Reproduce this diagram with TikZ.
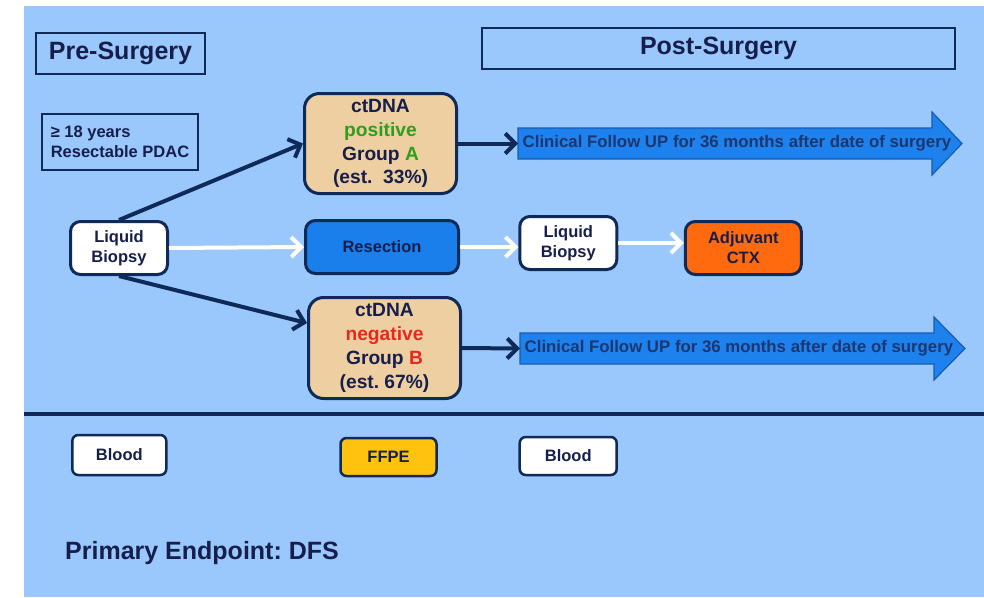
\documentclass[tikz,border=0pt]{standalone}
\usepackage{fontspec}
\setmainfont{Liberation Sans}
\usetikzlibrary{arrows.meta}
\definecolor{bgblue}{HTML}{9AC8FC}
\definecolor{navyline}{HTML}{0F2A58}
\definecolor{navytext}{HTML}{161E4C}
\definecolor{resblue}{HTML}{1A7FEA}
\definecolor{fublue}{HTML}{1E82EE}
\definecolor{fuline}{HTML}{1A5AAE}
\definecolor{futext}{HTML}{1C3670}
\definecolor{tan}{HTML}{EECFA2}
\definecolor{orng}{HTML}{FF6A0E}
\definecolor{yelo}{HTML}{FFC20E}
\definecolor{tgreen}{HTML}{2E9E1F}
\definecolor{tred}{HTML}{E8281E}
\frenchspacing
\begin{document}
\begin{tikzpicture}[x=1pt,y=-1pt,
  hdr/.style={draw=navyline, line width=1.8pt, inner sep=0pt, text=navytext,
    font=\bfseries\fontsize{25}{30}\selectfont},
  rbox/.style={draw=navyline, line width=3pt, rounded corners=10pt, inner sep=0pt,
    align=center, text=navytext, font=\bfseries\fontsize{16.5}{20}\selectfont},
  ctbox/.style={rbox, fill=tan, rounded corners=15pt,
    font=\bfseries\fontsize{19.2}{23.8}\selectfont},
  smallbox/.style={rbox, line width=2.5pt, rounded corners=6pt},
  darr/.style={draw=navyline, line width=4pt,
    -{Straight Barb[length=10pt,width=20pt]}},
  warr/.style={draw=white, line width=4pt,
    -{Straight Barb[length=10pt,width=20pt]}},
  fuarrow/.style={fill=fublue, draw=fuline, line width=1.2pt, line join=miter},
  futxt/.style={inner xsep=4.5pt, inner ysep=0pt, text=futext,
    font=\bfseries\fontsize{16.8}{20}\selectfont}
]
\useasboundingbox (0,0) rectangle (984,597);
\fill[white] (0,0) rectangle (984,597);
\fill[bgblue] (24,6) rectangle (984,597);

% headers
\node[hdr, minimum width=169, minimum height=41] (pre) at (120.5,53.5) {Pre-Surgery};
\node[hdr, minimum width=473, minimum height=41] (post) at (718.5,48.5) {Post-Surgery};
\node[hdr, minimum width=156, minimum height=56, align=left,
  font=\bfseries\fontsize{16.5}{20}\selectfont] (crit) at (120,142)
  {≥ 18 years\\Resectable PDAC};

% main nodes
\node[rbox, fill=white, minimum width=97, minimum height=53] (lb1) at (119,248) {Liquid\\Biopsy};
\node[ctbox, minimum width=152, minimum height=100] (ctA) at (380.5,143.5)
  {\raisebox{0pt}[0pt][0pt]{}ctDNA\\{\color{tgreen}positive}\\Group {\color{tgreen}A}\\(est.\ \ 33\%)};
\node[rbox, fill=resblue, minimum width=153, minimum height=53] (res) at (382,247) {Resection};
\node[ctbox, minimum width=152, minimum height=101] (ctB) at (384.5,348)
  {ctDNA\\{\color{tred}negative}\\Group {\color{tred}B}\\(est. 67\%)};
\node[rbox, fill=white, minimum width=97, minimum height=53] (lb2) at (568.3,243) {Liquid\\Biopsy};
\node[rbox, fill=orng, minimum width=116, minimum height=53] (adj) at (743.3,248) {Adjuvant\\CTX};

% follow-up arrows
\draw[fuarrow] (518,128) -- (932,128) -- (932,112) -- (962,143.5) -- (932,175) -- (932,159) -- (518,159) -- cycle;
\node[futxt, anchor=west] (fuA) at (518,143.5) {Clinical Follow UP for 36 months after date of surgery};
\draw[fuarrow] (520,333) -- (934,333) -- (934,317) -- (965,348.5) -- (934,380) -- (934,364) -- (520,364) -- cycle;
\node[futxt, anchor=west] (fuB) at (520,348.5) {Clinical Follow UP for 36 months after date of surgery};

% connectors
\draw[darr] (lb1.north) -- (ctA.west);
\draw[darr] (lb1.south) -- ([yshift=25pt]ctB.west);
\draw[warr] (lb1.east) -- (res.west);
\draw[warr] (res.east) -- (res.east -| lb2.west);
\draw[warr] (lb2.east) -- (lb2.east -| adj.west);
\draw[darr] (ctA.east) -- (fuA.west);
\draw[darr] (ctB.east) -- (fuB.west);

% divider
\draw[navyline, line width=4pt] (24,414) -- (984,414);

% sample row
\node[smallbox, fill=white, minimum width=94, minimum height=40] (bl1) at (119.3,455) {Blood};
\node[smallbox, fill=yelo, minimum width=96, minimum height=38] (ffpe) at (388.5,457) {FFPE};
\node[smallbox, fill=white, minimum width=97, minimum height=38] (bl2) at (568.2,456) {Blood};

\node[anchor=base west, inner sep=0pt, text=navytext,
  font=\bfseries\fontsize{25}{30}\selectfont] (prim) at (65,559) {Primary Endpoint: DFS};
\end{tikzpicture}
\end{document}
